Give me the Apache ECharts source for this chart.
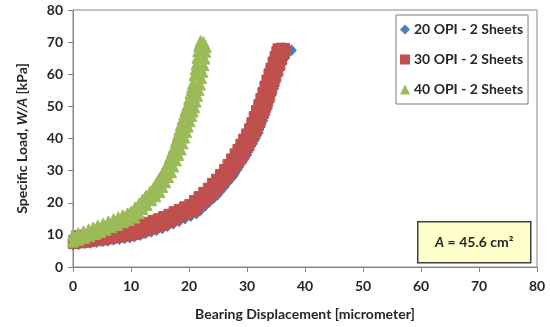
<!DOCTYPE html>
<html>
<head>
<meta charset="utf-8">
<script src="https://cdn.jsdelivr.net/npm/echarts@6/dist/echarts.min.js"></script>
<style>
  html, body { margin: 0; padding: 0; background: #fff; }
  #chart { width: 550px; height: 327px; }
</style>
</head>
<body>
<div id="chart"></div>
<script>
// Bearing displacement [micrometer] vs specific load W/A [kPa].
// Each specimen was loaded twice, so every set holds two passes.

const seriesNames = ['20 OPI - 2 Sheets', '30 OPI - 2 Sheets', '40 OPI - 2 Sheets'];
const tickValues = [0, 10, 20, 30, 40, 50, 60, 70, 80];
const areaNote = 'A = 45.6 cm²';

// 20 OPI, first pass
const opi20PassA = [
  [0,9.3],[1.2,9.6],[2.4,9.9],[3.6,10.2],[4.8,10.5],[6.0,10.8],[7.2,11.1],[8.4,11.5],
  [9.6,11.9],[10.8,12.5],[12.0,13.3],[13.2,14.0],[14.4,14.7],[15.6,15.6],[16.8,16.5],
  [18.0,17.5],[19.2,18.5],[20.3,19.5],[21.3,20.9],[22.3,22.6],[23.3,24.2],[24.2,26.0],
  [25.0,27.6],[25.8,29.3],[26.6,31.2],[27.4,33.3],[28.1,35.3],[28.8,37.6],[29.4,39.6],
  [30.0,41.5],[30.6,43.6],[31.1,45.8],[31.6,48.2],[32.1,50.8],[32.6,53.3],[33.1,56.0],
  [33.5,58.4],[34.0,61.0],[34.0,62.3],[34.5,64.3],[35.0,66.4],[35.6,67.6]
];
// 20 OPI, second pass
const opi20PassB = [
  [0.0,6.9],[1.0,7.1],[2.0,7.3],[3.0,7.5],[4.1,7.7],[5.1,7.9],[6.0,8.1],[7.0,8.4],
  [8.0,8.6],[8.9,8.9],[9.8,9.1],[10.6,9.4],[11.6,9.9],[12.5,10.4],[13.5,10.9],[14.4,11.4],
  [15.4,12.0],[16.3,12.7],[17.3,13.4],[18.3,14.2],[19.3,15.0],[20.3,15.8],[21.3,16.6],
  [22.0,17.7],[22.8,19.0],[23.5,20.2],[24.2,21.3],[24.9,22.4],[25.5,23.7],[26.1,25.0],
  [26.7,26.3],[27.3,27.6],[27.8,28.7],[28.4,30.4],[28.9,32.0],[29.5,33.5],[30.0,34.9],
  [30.5,36.6],[31.0,38.4],[31.5,40.1],[32.0,41.8],[32.4,43.7],[32.8,45.6],[33.2,47.5],
  [33.6,49.4],[33.95,51.5],[34.3,53.6],[34.65,55.6],[35.0,57.7],[35.4,59.8],[35.75,61.7],
  [36.1,63.5],[36.6,65.2],[37.0,66.5],[37.7,67.5]
];

// 30 OPI, first pass
const opi30PassA = [
  [-0.3,9.6],[0.6,9.8],[1.5,10.0],[2.5,10.2],[3.5,10.5],[4.4,10.7],[5.3,11.0],[6.2,11.2],
  [7.2,11.5],[8.2,11.8],[9.1,12.1],[10.1,12.4],[11.0,12.9],[11.9,13.5],[12.8,14.0],
  [13.8,14.6],[14.7,15.1],[15.6,15.8],[16.5,16.5],[17.4,17.3],[18.3,18.0],[19.2,18.8],
  [20.1,19.5],[20.9,20.8],[21.7,22.0],[22.5,23.3],[23.3,24.6],[24.0,26.1],[24.7,27.4],
  [25.4,28.9],[26.1,30.4],[26.7,32.0],[27.3,33.7],[27.9,35.3],[28.4,36.7],[28.9,38.3],
  [29.4,39.9],[29.9,41.5],[30.4,43.1],[30.8,45.0],[31.2,46.9],[31.6,48.8],[32.0,50.6],
  [32.35,52.5],[32.7,54.4],[33.05,56.4],[33.4,58.3],[33.75,60.2],[34.1,62.0],[34.45,63.9],
  [34.8,65.6],[35.1,67.1],[35.3,68.0],[35.9,68.2],[36.5,68.1]
];
// 30 OPI, second pass
const opi30PassB = [
  [0.0,7.2],[0.9,7.4],[1.9,7.6],[2.9,7.8],[3.9,8.1],[4.9,8.3],[5.8,8.6],[6.8,8.9],
  [7.8,9.2],[8.7,9.5],[9.6,9.7],[10.5,10.0],[11.4,10.5],[12.3,11.1],[13.2,11.6],[14.2,12.2],
  [15.1,12.8],[16.0,13.4],[16.9,14.1],[17.8,14.8],[18.7,15.6],[19.6,16.3],[20.5,17.0],
  [21.3,17.9],[22.1,19.2],[22.9,20.5],[23.7,21.8],[24.5,23.1],[25.2,24.6],[25.9,26.1],
  [26.6,27.6],[27.3,29.1],[27.9,30.7],[28.5,32.3],[29.1,33.9],[29.6,35.4],[30.1,37.1],
  [30.6,38.8],[31.1,40.4],[31.6,42.1],[32.0,43.9],[32.4,45.7],[32.85,47.7],[33.25,49.6],
  [33.6,51.5],[33.95,53.4],[34.3,55.4],[34.7,57.5],[35.0,59.2],[35.35,61.0],[35.7,62.8],
  [36.0,64.5],[36.3,66.1],[36.6,67.6]
];

// 40 OPI, first pass
const opi40PassA = [
  [0.0,9.9],[0.9,10.5],[1.8,11.1],[2.7,11.7],[3.5,12.3],[4.3,12.9],[5.2,13.5],[6.1,14.2],
  [7.0,14.9],[7.8,15.5],[8.6,16.1],[9.4,16.7],[10.0,17.2],[10.7,18.5],[11.4,19.8],
  [12.0,21.0],[12.6,22.2],[13.3,23.5],[13.9,24.7],[14.4,26.2],[14.9,27.6],[15.4,29.1],
  [15.9,30.5],[16.3,32.3],[16.7,34.1],[17.1,35.9],[17.45,37.4],[17.75,39.2],[18.05,40.9],
  [18.35,42.7],[18.6,44.3],[18.9,46.0],[19.2,47.6],[19.45,49.0],[19.7,50.3],[20.0,52.3],
  [20.25,54.1],[20.5,55.8],[20.7,57.2],[20.95,59.7],[21.15,61.6],[21.3,63.2],[21.45,65.1],
  [21.6,67.2],[21.75,68.9],[22.0,70.3]
];
// 40 OPI, second pass
const opi40PassB = [
  [0.0,7.9],[0.9,8.5],[1.9,9.1],[2.8,9.7],[3.8,10.3],[4.7,10.9],[5.6,11.6],[6.6,12.4],
  [7.6,13.1],[8.6,13.9],[9.6,14.6],[10.6,15.4],[11.3,16.7],[12.0,18.0],[12.7,19.3],
  [13.5,20.8],[14.2,22.0],[14.9,23.3],[15.4,24.9],[15.9,26.4],[16.4,28.0],[16.9,29.5],
  [17.3,31.3],[17.75,33.2],[18.15,34.9],[18.57,36.6],[18.9,38.5],[19.2,40.3],[19.5,42.0],
  [19.8,43.7],[20.1,45.4],[20.4,47.0],[20.65,48.4],[20.9,49.7],[21.15,51.5],[21.4,53.3],
  [21.65,55.1],[21.9,56.8],[22.1,58.8],[22.3,60.8],[22.5,62.8],[22.65,64.9],[22.8,67.0],
  [22.9,68.5],[22.5,70.0]
];

const colors = ['#4A7EBB', '#C0504D', '#9BBB59'];
const symbols = ['diamond', 'rect', 'triangle'];
const symbolSizes = [[9, 10], 9.5, 11];
const passes = [
  opi20PassA.concat(opi20PassB),
  opi30PassA.concat(opi30PassB),
  opi40PassA.concat(opi40PassB)
];

const FONT = 'Lato, "Open Sans", sans-serif';
const TEXT = '#262626';
const AXIS = '#868686';

const chart = echarts.init(document.getElementById('chart'), null, { renderer: 'canvas' });

const axisCommon = {
  type: 'value',
  min: tickValues[0],
  max: tickValues[tickValues.length - 1],
  interval: tickValues[1] - tickValues[0],
  axisLine: { show: true, onZero: false, lineStyle: { color: AXIS, width: 1 } },
  axisTick: { show: true, inside: false, length: 5, lineStyle: { color: AXIS } },
  splitLine: { show: false },
  axisLabel: { color: TEXT, fontFamily: FONT, fontWeight: 'bold', fontSize: 14 }
};

chart.setOption({
  animation: false,
  backgroundColor: '#fff',
  grid: {
    left: 73, right: 13, top: 10, bottom: 60,
    show: true, borderColor: AXIS, borderWidth: 1, backgroundColor: 'transparent'
  },
  xAxis: Object.assign({}, axisCommon, {
    axisLabel: Object.assign({}, axisCommon.axisLabel, { margin: 12 }),
    name: 'Bearing Displacement [micrometer]',
    nameLocation: 'middle',
    nameGap: 40,
    nameTextStyle: { color: TEXT, fontFamily: FONT, fontWeight: 'bold', fontSize: 14 }
  }),
  yAxis: Object.assign({}, axisCommon, {
    axisLabel: Object.assign({}, axisCommon.axisLabel, { margin: 10 }),
    name: '{n|Specific Load, }{i|W/A}{n| [kPa]}',
    nameLocation: 'middle',
    nameGap: 44,
    nameRotate: 90,
    nameTextStyle: {
      rich: {
        n: { color: TEXT, fontFamily: FONT, fontWeight: 'bold', fontSize: 14 },
        i: { color: TEXT, fontFamily: FONT, fontWeight: 'bold', fontStyle: 'italic', fontSize: 14 }
      }
    }
  }),
  legend: {
    orient: 'vertical',
    left: 396,
    top: 15,
    padding: [7, 5, 7, 4],
    itemWidth: 10,
    itemHeight: 10,
    itemGap: 15,
    backgroundColor: '#fff',
    borderColor: '#7f7f7f',
    borderWidth: 1,
    data: seriesNames.map((n, i) => ({ name: n, icon: symbols[i], itemStyle: { borderWidth: 0 } })),
    textStyle: { color: TEXT, fontFamily: FONT, fontWeight: 'bold', fontSize: 14, lineHeight: 15, padding: [0, 0, 0, -1] }
  },
  series: seriesNames.map((name, i) => ({
    name: name,
    type: 'scatter',
    data: passes[i],
    symbol: symbols[i],
    symbolSize: symbolSizes[i],
    // a thin edge in the fill colour closes hairline seams between overlapping marks
    itemStyle: { color: colors[i], borderColor: colors[i], borderWidth: 1, opacity: 1 },
    emphasis: { disabled: true },
    z: 2 + i
  })),
  graphic: [{
    type: 'group',
    left: 417,
    top: 221,
    children: [
      {
        type: 'rect',
        shape: { x: 0, y: 0, width: 113, height: 41 },
        style: { fill: '#FFFFCC', stroke: '#404040', lineWidth: 1.5 }
      },
      {
        type: 'text',
        x: 56.5,
        y: 21,
        style: {
          text: '{i|A}{n|' + areaNote.slice(1) + '}',
          align: 'center',
          verticalAlign: 'middle',
          rich: {
            i: { fill: TEXT, fontFamily: FONT, fontWeight: 'bold', fontStyle: 'italic', fontSize: 14 },
            n: { fill: TEXT, fontFamily: FONT, fontWeight: 'bold', fontSize: 14 }
          }
        }
      }
    ]
  }]
});
</script>
</body>
</html>
